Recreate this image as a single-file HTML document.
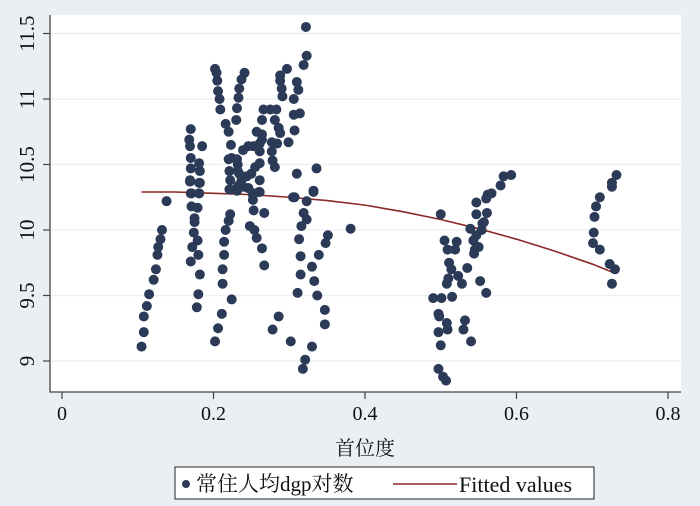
<!DOCTYPE html>
<html><head><meta charset="utf-8"><style>
html,body{margin:0;padding:0;background:#eaeff3;}
svg{display:block;}
</style></head><body>
<svg id="chart" width="700" height="506" xmlns="http://www.w3.org/2000/svg">
<rect x="0" y="0" width="700" height="506" fill="#eaeff3"/>
<rect x="50" y="15" width="631" height="377" fill="#ffffff"/>
<g id="grid"></g>
<g id="fit"></g>
<g id="points"></g>
<g id="axes"></g>
<text x="365" y="455" font-family="'Liberation Serif','Noto Serif CJK SC',serif" font-size="20" text-anchor="middle" fill="#111">首位度</text>
<g>
<rect x="175" y="467" width="419" height="32" fill="#fff" stroke="#222" stroke-width="1"/>
<circle cx="186" cy="484" r="4" fill="#2b3a57"/>
<text x="196" y="491" font-family="'Liberation Serif','Noto Serif CJK SC',serif" font-size="21" fill="#111">常住人均dgp对数</text>
<line x1="393" y1="484" x2="457" y2="484" stroke="#8b2a26" stroke-width="1.5"/>
<text x="459" y="492" font-family="'Liberation Serif',serif" font-size="22" fill="#111">Fitted values</text>
</g>
</svg>
<script>
const xVals=[0.105,0.108,0.108,0.112,0.115,0.121,0.124,0.126,0.127,0.130,0.132,0.138,
0.170,0.178,0.180,0.182,0.180,0.179,0.172,0.174,0.175,0.175,0.179,0.171,0.170,0.181,0.169,0.182,
0.170,0.168,0.169,0.185,0.170,0.181,0.170,0.182,0.169,0.181,0.171,0.181,
0.202,0.204,0.205,0.206,0.208,0.209,0.216,0.220,0.223,0.224,0.220,0.231,0.221,0.232,0.222,0.233,0.222,0.231,
0.241,0.237,0.234,0.233,0.231,0.230,0.239,0.246,0.232,0.234,0.244,0.250,0.255,0.261,0.253,0.261,0.264,0.261,0.257,0.264,0.264,0.266,0.275,0.283,0.277,0.284,0.281,0.286,0.288,0.277,0.278,0.281,0.299,0.307,0.306,0.314,0.306,0.312,0.310,0.319,0.323,0.322,0.291,0.290,0.288,0.288,0.297,0.310,0.336,0.332,0.307,0.246,0.260,0.253,0.239,0.237,0.261,
0.221,0.231,0.246,0.252,0.261,0.252,0.253,0.267,0.222,0.220,0.216,0.214,0.214,0.212,0.212,0.224,0.211,0.206,0.202,0.248,0.254,0.257,0.264,0.267,
0.305,0.332,0.323,0.319,0.323,0.316,0.313,0.315,0.315,0.311,0.351,0.348,0.339,0.330,0.333,0.337,0.347,0.347,0.381,0.286,0.278,0.302,0.330,0.321,0.318,
0.500,0.505,0.509,0.521,0.519,0.511,0.514,0.510,0.508,0.523,0.528,0.535,0.490,0.501,0.515,0.497,0.498,0.508,0.509,0.497,0.500,0.532,0.530,0.540,0.497,0.503,0.507,
0.552,0.560,0.544,0.545,0.550,0.543,0.539,0.547,0.554,0.555,0.557,0.547,0.561,0.547,0.560,0.562,0.567,0.579,0.583,0.593,
0.732,0.726,0.726,0.710,0.705,0.703,0.702,0.701,0.710,0.723,0.730,0.726];
const yVals=[9.11,9.22,9.34,9.42,9.51,9.62,9.70,9.81,9.87,9.93,10.00,10.22,
9.76,9.41,9.51,9.66,9.81,9.92,9.87,9.98,10.06,10.09,10.17,10.18,10.28,10.28,10.37,10.36,
10.77,10.69,10.64,10.64,10.55,10.51,10.47,10.45,10.38,10.36,10.28,10.28,
11.23,11.20,11.14,11.06,11.00,10.92,10.81,10.75,10.65,10.55,10.54,10.54,10.45,10.45,10.38,10.34,10.31,10.30,
11.20,11.15,11.08,11.01,10.93,10.84,10.61,10.64,10.50,10.43,10.41,10.43,10.48,10.51,10.64,10.66,10.69,10.60,10.75,10.73,10.84,10.92,10.92,10.92,10.67,10.66,10.84,10.78,10.74,10.60,10.53,10.48,10.67,10.76,10.88,10.89,11.00,11.07,11.13,11.26,11.33,11.55,11.02,11.08,11.14,11.18,11.23,10.43,10.47,10.30,10.25,10.32,10.29,10.28,10.33,10.38,10.38,
10.31,10.32,10.32,10.27,10.29,10.23,10.15,10.13,10.12,10.07,10.00,9.91,9.81,9.70,9.59,9.47,9.36,9.25,9.15,10.03,10.00,9.94,9.86,9.73,
10.25,10.29,10.22,10.13,10.08,10.03,9.93,9.80,9.66,9.52,9.96,9.90,9.81,9.72,9.61,9.50,9.39,9.28,10.01,9.34,9.24,9.15,9.11,9.01,8.94,
10.12,9.92,9.85,9.91,9.85,9.75,9.70,9.63,9.59,9.65,9.59,9.71,9.48,9.48,9.49,9.36,9.34,9.29,9.24,9.22,9.12,9.31,9.24,9.15,8.94,8.88,8.85,
9.61,9.52,9.82,9.85,9.87,9.92,10.01,9.96,10.00,10.05,10.06,10.12,10.13,10.21,10.24,10.27,10.28,10.34,10.41,10.42,
10.42,10.36,10.33,10.25,10.18,10.10,9.98,9.90,9.85,9.74,9.70,9.59];
const fitX=[0.105,0.15,0.2,0.25,0.3,0.35,0.4,0.45,0.5,0.55,0.6,0.65,0.7,0.73];
const fitY=[10.29,10.29,10.28,10.27,10.25,10.225,10.19,10.14,10.08,10.01,9.93,9.84,9.74,9.67];
const xTicks=[0,0.2,0.4,0.6,0.8];
const xTickLabels=["0","0.2","0.4","0.6","0.8"];
const yTicks=[9,9.5,10,10.5,11,11.5];
const yTickLabels=["9","9.5","10","10.5","11","11.5"];

const NS="http://www.w3.org/2000/svg";
function sx(v){return 62+v*757.5;}
function sy(v){return 361-(v-9)*131;}
function mk(tag,attrs,parent){const e=document.createElementNS(NS,tag);for(const k in attrs)e.setAttribute(k,attrs[k]);parent.appendChild(e);return e;}
const grid=document.getElementById('grid'),axes=document.getElementById('axes'),pts=document.getElementById('points'),fit=document.getElementById('fit');
yTicks.forEach((t,i)=>{
  const g=mk('line',{x1:50,x2:681,y1:sy(t),y2:sy(t),stroke:'#eef1f4','stroke-width':1.5},grid);
  
  
  const tk=mk('line',{x1:43,x2:50,y1:sy(t),y2:sy(t),stroke:'#444','stroke-width':1.2},axes);
  
  
  const lb=mk('text',{x:0,y:0,transform:`translate(34,${sy(t)}) rotate(-90)`,'text-anchor':'middle','font-family':"'Liberation Serif',serif",'font-size':21,fill:'#111'},axes);
  lb.textContent=yTickLabels[i];
  
  
});
xTicks.forEach((t,i)=>{
  const tk=mk('line',{x1:sx(t),x2:sx(t),y1:392,y2:399,stroke:'#444','stroke-width':1.2},axes);
  
  
  const lb=mk('text',{x:sx(t),y:420,'text-anchor':'middle','font-family':"'Liberation Serif',serif",'font-size':20,fill:'#111'},axes);
  lb.textContent=xTickLabels[i];
  
  
});
const ax=mk('path',{d:'M50,15 V392 H681',fill:'none',stroke:'#444','stroke-width':1.3},axes);


xVals.forEach((x,i)=>{
  const c=mk('circle',{cx:sx(x),cy:sy(yVals[i]),r:5,fill:'#2b3a57'},pts);
  
  
});
const fl=mk('polyline',{points:fitX.map((x,i)=>sx(x)+','+sy(fitY[i])).join(' '),fill:'none',stroke:'#8b2a26','stroke-width':1.6},fit);


</script>
</body></html>
